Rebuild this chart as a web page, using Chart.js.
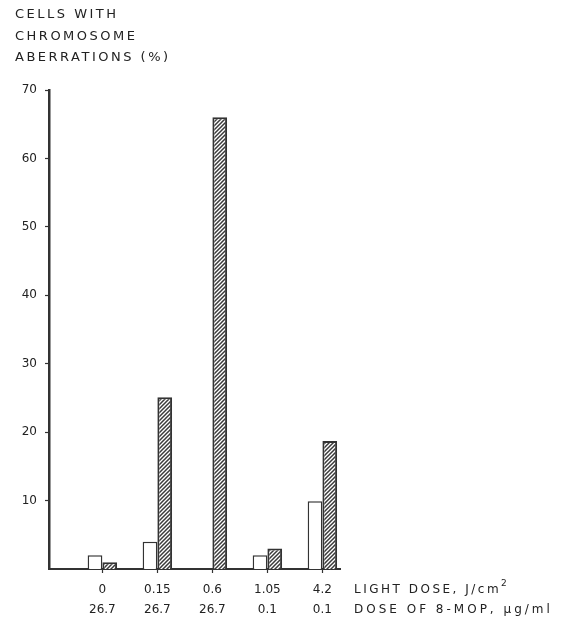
<!DOCTYPE html>
<html>
<head>
<meta charset="utf-8">
<script src="https://cdn.jsdelivr.net/npm/chart.js@4.4.1/dist/chart.umd.min.js"></script>
<style>
  html, body { margin: 0; padding: 0; background: #fff; }
  #c { display: block; }
</style>
</head>
<body>
<canvas id="c" width="565" height="627"></canvas>
<script>
// ---- data ----
const lightDose = ['0', '0.15', '0.6', '1.05', '4.2'];
const mopDose = ['26.7', '26.7', '26.7', '0.1', '0.1'];
const openBars = [2.0, 4.0, 0, 2.0, 9.9];
const hatchedBars = [1.0, 25.1, 66.0, 3.0, 18.7];
const yTicks = [10, 20, 30, 40, 50, 60, 70];
const yTitleLines = ['CELLS WITH', 'CHROMOSOME', 'ABERRATIONS (%)'];
const rowLabel1 = 'LIGHT DOSE, J/cm';
const rowLabel1Sup = '2';
const rowLabel2 = 'DOSE OF 8-MOP, \u00b5g/ml';

const INK = '#222222';
const FONT = 'DejaVu Sans';

function makeHatch() {
  const s = 4;
  const p = document.createElement('canvas');
  p.width = s; p.height = s;
  const g = p.getContext('2d');
  g.fillStyle = '#ffffff';
  g.fillRect(0, 0, s, s);
  g.strokeStyle = '#3a3a3a';
  g.lineWidth = 1.5;
  g.beginPath();
  g.moveTo(0, s); g.lineTo(s, 0);
  g.moveTo(-1, 1); g.lineTo(1, -1);
  g.moveTo(s - 1, s + 1); g.lineTo(s + 1, s - 1);
  g.stroke();
  return document.getElementById('c').getContext('2d').createPattern(p, 'repeat');
}

const textPlugin = {
  id: 'extraText',
  afterDraw(chart) {
    const ctx = chart.ctx;
    const area = chart.chartArea;
    ctx.save();
    ctx.fillStyle = INK;
    ctx.textBaseline = 'middle';
    ctx.textAlign = 'left';
    ctx.font = '13px "' + FONT + '"';
    ctx.letterSpacing = '2.5px';
    const ty = [15, 37, 58];
    yTitleLines.forEach((t, i) => ctx.fillText(t, 15, ty[i]));
    const x0 = area.right + 14;
    const y1 = area.bottom + 21;
    const y2 = area.bottom + 41;
    ctx.font = '12px "' + FONT + '"';
    ctx.letterSpacing = '2.5px';
    ctx.fillText(rowLabel1, x0, y1);
    const w = ctx.measureText(rowLabel1).width;
    ctx.font = '9px "' + FONT + '"';
    ctx.fillText(rowLabel1Sup, x0 + w, y1 - 6);
    ctx.font = '12px "' + FONT + '"';
    ctx.letterSpacing = '3px';
    ctx.fillText(rowLabel2, x0, y2);
    ctx.restore();
  }
};

const hatch = makeHatch();

new Chart(document.getElementById('c'), {
  type: 'bar',
  data: {
    datasets: [
      {
        label: 'open',
        data: openBars.map((v, i) => ({ x: i, y: v })),
        backgroundColor: '#ffffff',
        borderColor: '#333333',
        borderWidth: 1.5,
        borderSkipped: 'bottom'
      },
      {
        label: 'hatched',
        data: hatchedBars.map((v, i) => ({ x: i, y: v })),
        backgroundColor: hatch,
        borderColor: '#333333',
        borderWidth: 2,
        borderSkipped: 'bottom'
      }
    ]
  },
  options: {
    responsive: false,
    animation: false,
    events: [],
    layout: { padding: { top: 90, right: 225, bottom: 0, left: 0 } },
    datasets: { bar: { categoryPercentage: 0.535, barPercentage: 1.0 } },
    plugins: { legend: { display: false }, tooltip: { enabled: false }, title: { display: false } },
    scales: {
      x: {
        type: 'linear',
        offset: false,
        min: -0.97,
        max: 4.32,
        afterBuildTicks: (s) => { s.ticks = lightDose.map((_, i) => ({ value: i })); },
        afterFit: (s) => { s.height = 58; },
        border: { display: true, color: '#333333', width: 2 },
        grid: { offset: false, drawOnChartArea: false, drawTicks: true, tickLength: 4, color: '#333333', tickWidth: 1.2 },
        ticks: {
          autoSkip: false,
          maxRotation: 0,
          padding: 7,
          color: INK,
          font: { family: FONT, size: 12, lineHeight: 1.65 },
          callback: (v) => [lightDose[v], mopDose[v]]
        }
      },
      y: {
        min: 0,
        max: 70,
        afterBuildTicks: (s) => { s.ticks = yTicks.map(v => ({ value: v })); },
        afterFit: (s) => { s.width = 49; },
        border: { display: true, color: '#333333', width: 2.5 },
        grid: { drawOnChartArea: false, drawTicks: true, tickLength: 4, color: '#333333', tickWidth: 1.2 },
        ticks: {
          padding: 8,
          color: INK,
          font: { family: FONT, size: 12 }
        }
      }
    }
  },
  plugins: [textPlugin]
});
</script>
</body>
</html>
